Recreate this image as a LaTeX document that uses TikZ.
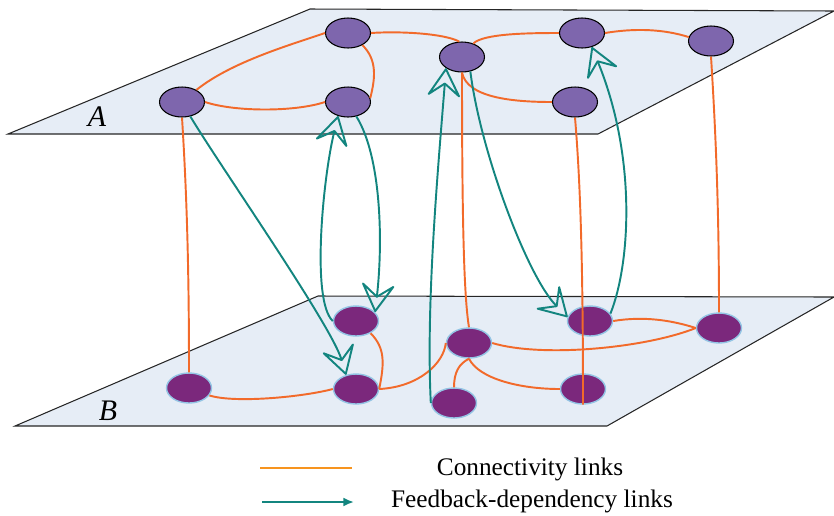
\documentclass[tikz,border=0pt]{standalone}
\usepackage{fontspec}
\setmainfont{Liberation Serif}
\usetikzlibrary{shapes.geometric,arrows.meta}
\definecolor{planefill}{HTML}{E6EDF6}
\definecolor{nodeup}{HTML}{7E66AD}
\definecolor{nodelow}{HTML}{7B287C}
\definecolor{rimlow}{HTML}{93C4E4}
\definecolor{connline}{HTML}{F26A2A}
\definecolor{legendline}{HTML}{F7941E}
\definecolor{depline}{HTML}{13857F}
\begin{document}
\begin{tikzpicture}[x=0.02cm, y=-0.02cm,
	plane/.style={fill=planefill, draw=black!85, line width=0.6pt},
	upper/.style={ellipse, draw=black, line width=0.6pt, fill=nodeup, minimum width=0.9cm, minimum height=0.6cm, inner sep=0pt},
	lower/.style={ellipse, draw=rimlow, line width=0.8pt, fill=nodelow, minimum width=0.9cm, minimum height=0.6cm, inner sep=0pt},
	conn/.style={draw=connline, line width=1.1pt},
	dep/.style={draw=depline, line width=1.1pt, -{Stealth[open, round, length=18pt, width=21pt, inset=8pt]}},
	]
	\useasboundingbox (0,0) rectangle (834,515);
	
	% Planes
	\draw[plane] (8,134) -- (310,9) -- (834,11) -- (598,134) -- cycle;
	\draw[plane] (15,426) -- (318,296) -- (834,297) -- (607,426) -- cycle;
	\node[font=\fontsize{17}{17}\selectfont\itshape] (labA) at (97,117) {A};
	\node[font=\fontsize{17}{17}\selectfont\itshape] (labB) at (108,411) {B};
	
	% Nodes of layer A and layer B
	\foreach \name/\x/\y in {A1/182/102, A2/348/33, A3/348/102, A4/462/57, A5/582/33, A6/711/41, A7/575/102}
		\node[upper] (\name) at (\x,\y) {};
	\foreach \name/\x/\y in {B1/189/388, B2/356/321, B3/356/389, B4/469/343, B5/454/403, B6/590/321, B7/583/389, B8/719/328}
		\node[lower] (\name) at (\x,\y) {};
	
	% Connectivity links inside A
	\draw[conn] (A1.40) .. controls +(35,-28) and +(-35,12) .. (A2.west);
	\draw[conn] (A1.east) .. controls +(30,10) and +(-30,10) .. (A3.west);
	\draw[conn] (A2.-40) .. controls +(15,15) and +(5,-20) .. (A3.10);
	\draw[conn] (A2.east) .. controls +(30,-2) and +(-15,-8) .. (A4.100);
	\draw[conn] (A4.50) .. controls +(10,-10) and +(-30,0) .. (A5.west);
	\draw[conn] (A5.east) .. controls +(30,-5) and +(-25,-8) .. (A6.170);
	\draw[conn] (A4.south) .. controls +(5,25) and +(-40,0) .. (A7.west);
	
	% Connectivity links inside B
	\draw[conn] (B1.-20) .. controls +(25,8) and +(-30,8) .. (B3.west);
	\draw[conn] (B2.-40) .. controls +(15,15) and +(5,-25) .. (B3.east);
	\draw[conn] (B3.east) .. controls +(40,-2) and +(-2,20) .. (B4.west);
	\draw[conn] (B4.south) .. controls +(-10,5) and +(0,-15) .. (B5.north);
	\draw[conn] (B4.south) .. controls +(10,20) and +(-40,0) .. (B7.west);
	\draw[conn] (B4.east) .. controls +(50,15) and +(-50,20) .. (B8.west);
	\draw[conn] (B6.east) .. controls +(30,-5) and +(-25,-8) .. (B8.west);
	
	% Connectivity links between A and B
	\draw[conn] (A1.south) .. controls +(5,80) and +(0,-100) .. (B1.north);
	\draw[conn] (A4.south) .. controls +(0,150) and +(-5,-30) .. (B4.north);
	\draw[conn] (A7.south) .. controls +(5,60) and +(0,-150) .. (B7.south);
	\draw[conn] (A6.south) .. controls +(5,80) and +(0,-100) .. (B8.north);
	
	% Feedback-dependency links
	\draw[dep] (A1.-60) .. controls +(30,50) and +(-15,-50) .. (B3.125);
	\draw[dep] (B2.west) .. controls +(-22,-20) and +(-15,60) .. (A3.-125);
	\draw[dep] (A3.-60) .. controls +(25,40) and +(8,-70) .. (B2.25);
	\draw[dep] (B5.west) .. controls +(-5,-100) and +(-8,100) .. (A4.-145);
	\draw[dep] (A4.-60) .. controls +(10,80) and +(-40,-40) .. (B6.170);
	\draw[dep] (B6.20) .. controls +(20,-50) and +(45,110) .. (A5.-55);
	
	% Legend
	\coordinate (keyA) at (260,468);
	\coordinate (keyB) at (352,468);
	\coordinate (keyC) at (262,502);
	\coordinate (keyD) at (354,502);
	\draw[draw=legendline, line width=1.1pt] (keyA) -- (keyB);
	\draw[draw=depline, line width=1.1pt, -{Latex[length=6pt, width=5pt]}] (keyC) -- (keyD);
	\node[font=\fontsize{14.4}{17}\selectfont] (txtconn) at (530,469) {Connectivity links};
	\node[font=\fontsize{14.4}{17}\selectfont] (txtdep) at (532,501) {Feedback-dependency links};
\end{tikzpicture}
\end{document}
